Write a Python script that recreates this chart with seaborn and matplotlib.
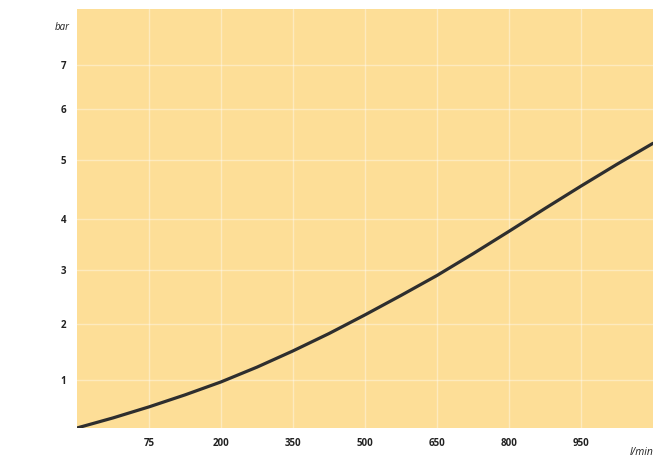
import numpy as np
import pandas as pd
import matplotlib
matplotlib.use("Agg")
import matplotlib.pyplot as plt
import seaborn as sns

# ---- data ----
x_tick_labels = ["75", "200", "350", "500", "650", "800", "950"]
x_tick_index = [1, 2, 3, 4, 5, 6, 7]
y_ticks = [1, 2, 3, 4, 5, 6, 7]

# curve (x in tick-index units, y in bar)
flow_index = [0, 0.5, 1, 1.5, 2, 2.5, 3, 3.5, 4, 4.5, 5, 5.5, 6, 6.5, 7, 7.5, 8]
pressure_bar = [0.0, 0.21, 0.44, 0.69, 0.96, 1.23, 1.52, 1.83, 2.17, 2.53,
                2.90, 3.32, 3.76, 4.18, 4.56, 4.93, 5.33]

# uneven spacing of the bar gridlines in the original chart
bar_levels = [0, 1, 2, 3, 4, 5, 6, 7, 8, 9]
bar_positions = [0, 48, 104, 158, 209, 268, 319, 363, 413, 463]

df = pd.DataFrame({"flow": flow_index, "bar": pressure_bar})

sns.set_theme(style="white")
plt.rcParams["font.family"] = ["Open Sans", "DejaVu Sans"]

fig = plt.figure(figsize=(6.62, 4.65), dpi=100)
ax = fig.add_axes([0.1163, 0.0796, 0.8701, 0.9006])
ax.set_facecolor("#FDDE97")

def fwd(v):
    return np.interp(v, bar_levels, bar_positions)

def inv(p):
    return np.interp(p, bar_positions, bar_levels)

ax.set_yscale("function", functions=(fwd, inv))

sns.lineplot(data=df, x="flow", y="bar", ax=ax, color="#2e2e2e",
             linewidth=2.3, zorder=3)

ax.set_xlim(0, 8)
ax.set_ylim(0, inv(419))

ax.set_xticks(x_tick_index)
ax.set_xticklabels(x_tick_labels)
ax.set_yticks(y_ticks)
ax.set_yticklabels([str(t) for t in y_ticks])
ax.minorticks_off()

ax.grid(True, color="white", alpha=0.38, linewidth=1.0, zorder=0)
ax.set_axisbelow(True)
for s in ax.spines.values():
    s.set_visible(False)

ax.tick_params(axis="both", length=0, labelsize=7, colors="#222222")
ax.tick_params(axis="x", pad=7)
ax.tick_params(axis="y", pad=8)
for lab in ax.get_xticklabels() + ax.get_yticklabels():
    lab.set_fontweight("bold")

ax.set_xlabel("")
ax.set_ylabel("")

fig.text(62 / 662, 1 - 28 / 465, "bar", fontsize=7, style="italic",
         color="#222222", ha="center", va="center")
fig.text(642 / 662, 1 - 452 / 465, "l/min", fontsize=7.5, style="italic",
         color="#222222", ha="center", va="center")

fig.savefig("out.png", dpi=100)
